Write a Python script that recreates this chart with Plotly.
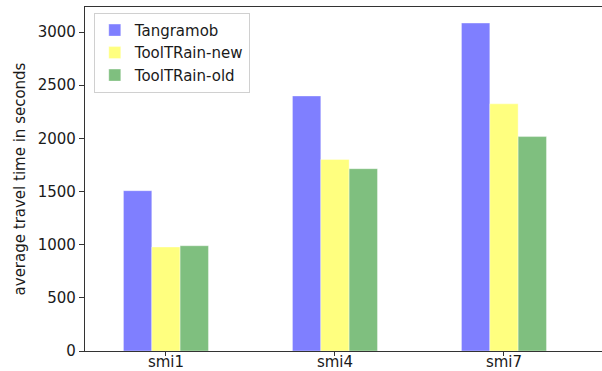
import plotly.graph_objects as go

# Average travel time per scenario for each routing tool
categories = ["smi1", "smi4", "smi7"]
tangramob = [1508, 2399, 3085]
tooltrain_new = [978, 1802, 2325]
tooltrain_old = [990, 1715, 2017]

series = [
    ("Tangramob", tangramob, "rgba(0,0,255,0.5)"),
    ("ToolTRain-new", tooltrain_new, "rgba(255,255,0,0.5)"),
    ("ToolTRain-old", tooltrain_old, "rgba(0,128,0,0.5)"),
]

positions = list(range(len(categories)))

fig = go.Figure()
for name, values, color in series:
    fig.add_trace(go.Bar(
        x=positions,
        y=values,
        name=name,
        marker=dict(color=color, line=dict(width=0.6, color="rgba(255,255,255,0.6)")),
    ))

font_family = "DejaVu Sans, sans-serif"
text_color = "#1a1a1a"

fig.update_layout(
    width=602,
    height=371,
    margin=dict(l=85, r=0, t=7, b=20),
    paper_bgcolor="white",
    plot_bgcolor="white",
    barmode="group",
    bargap=0.497,
    bargroupgap=0,
    font=dict(family=font_family, size=15, color=text_color),
    legend=dict(
        x=0.017, y=0.983, xanchor="left", yanchor="top",
        bgcolor="rgba(255,255,255,0.9)",
        bordercolor="#d0d0d0", borderwidth=1,
        font=dict(family=font_family, size=15, color=text_color),
        tracegroupgap=0,
        itemwidth=30,
    ),
    showlegend=True,
)

fig.update_xaxes(
    range=[-0.479, 2.58],
    tickmode="array",
    tickvals=positions,
    ticktext=categories,
    showgrid=False,
    zeroline=False,
    showline=True,
    linecolor="#333",
    linewidth=1.3,
    mirror=True,
    ticks="outside",
    ticklen=4,
    tickcolor="#333",
    automargin=False,
    ticklabelstandoff=-7,
    tickfont=dict(family=font_family, size=15, color=text_color),
)

fig.update_yaxes(
    range=[0, 3236],
    tickmode="array",
    tickvals=[0, 500, 1000, 1500, 2000, 2500, 3000],
    showgrid=False,
    zeroline=False,
    showline=True,
    linecolor="#333",
    linewidth=1.3,
    ticks="outside",
    ticklen=5,
    tickcolor="#333",
    automargin=False,
    tickfont=dict(family=font_family, size=15, color=text_color),
    title=dict(text="average travel time in seconds",
               font=dict(family=font_family, size=15, color=text_color),
               standoff=8),
)

fig.write_html("out.html")
